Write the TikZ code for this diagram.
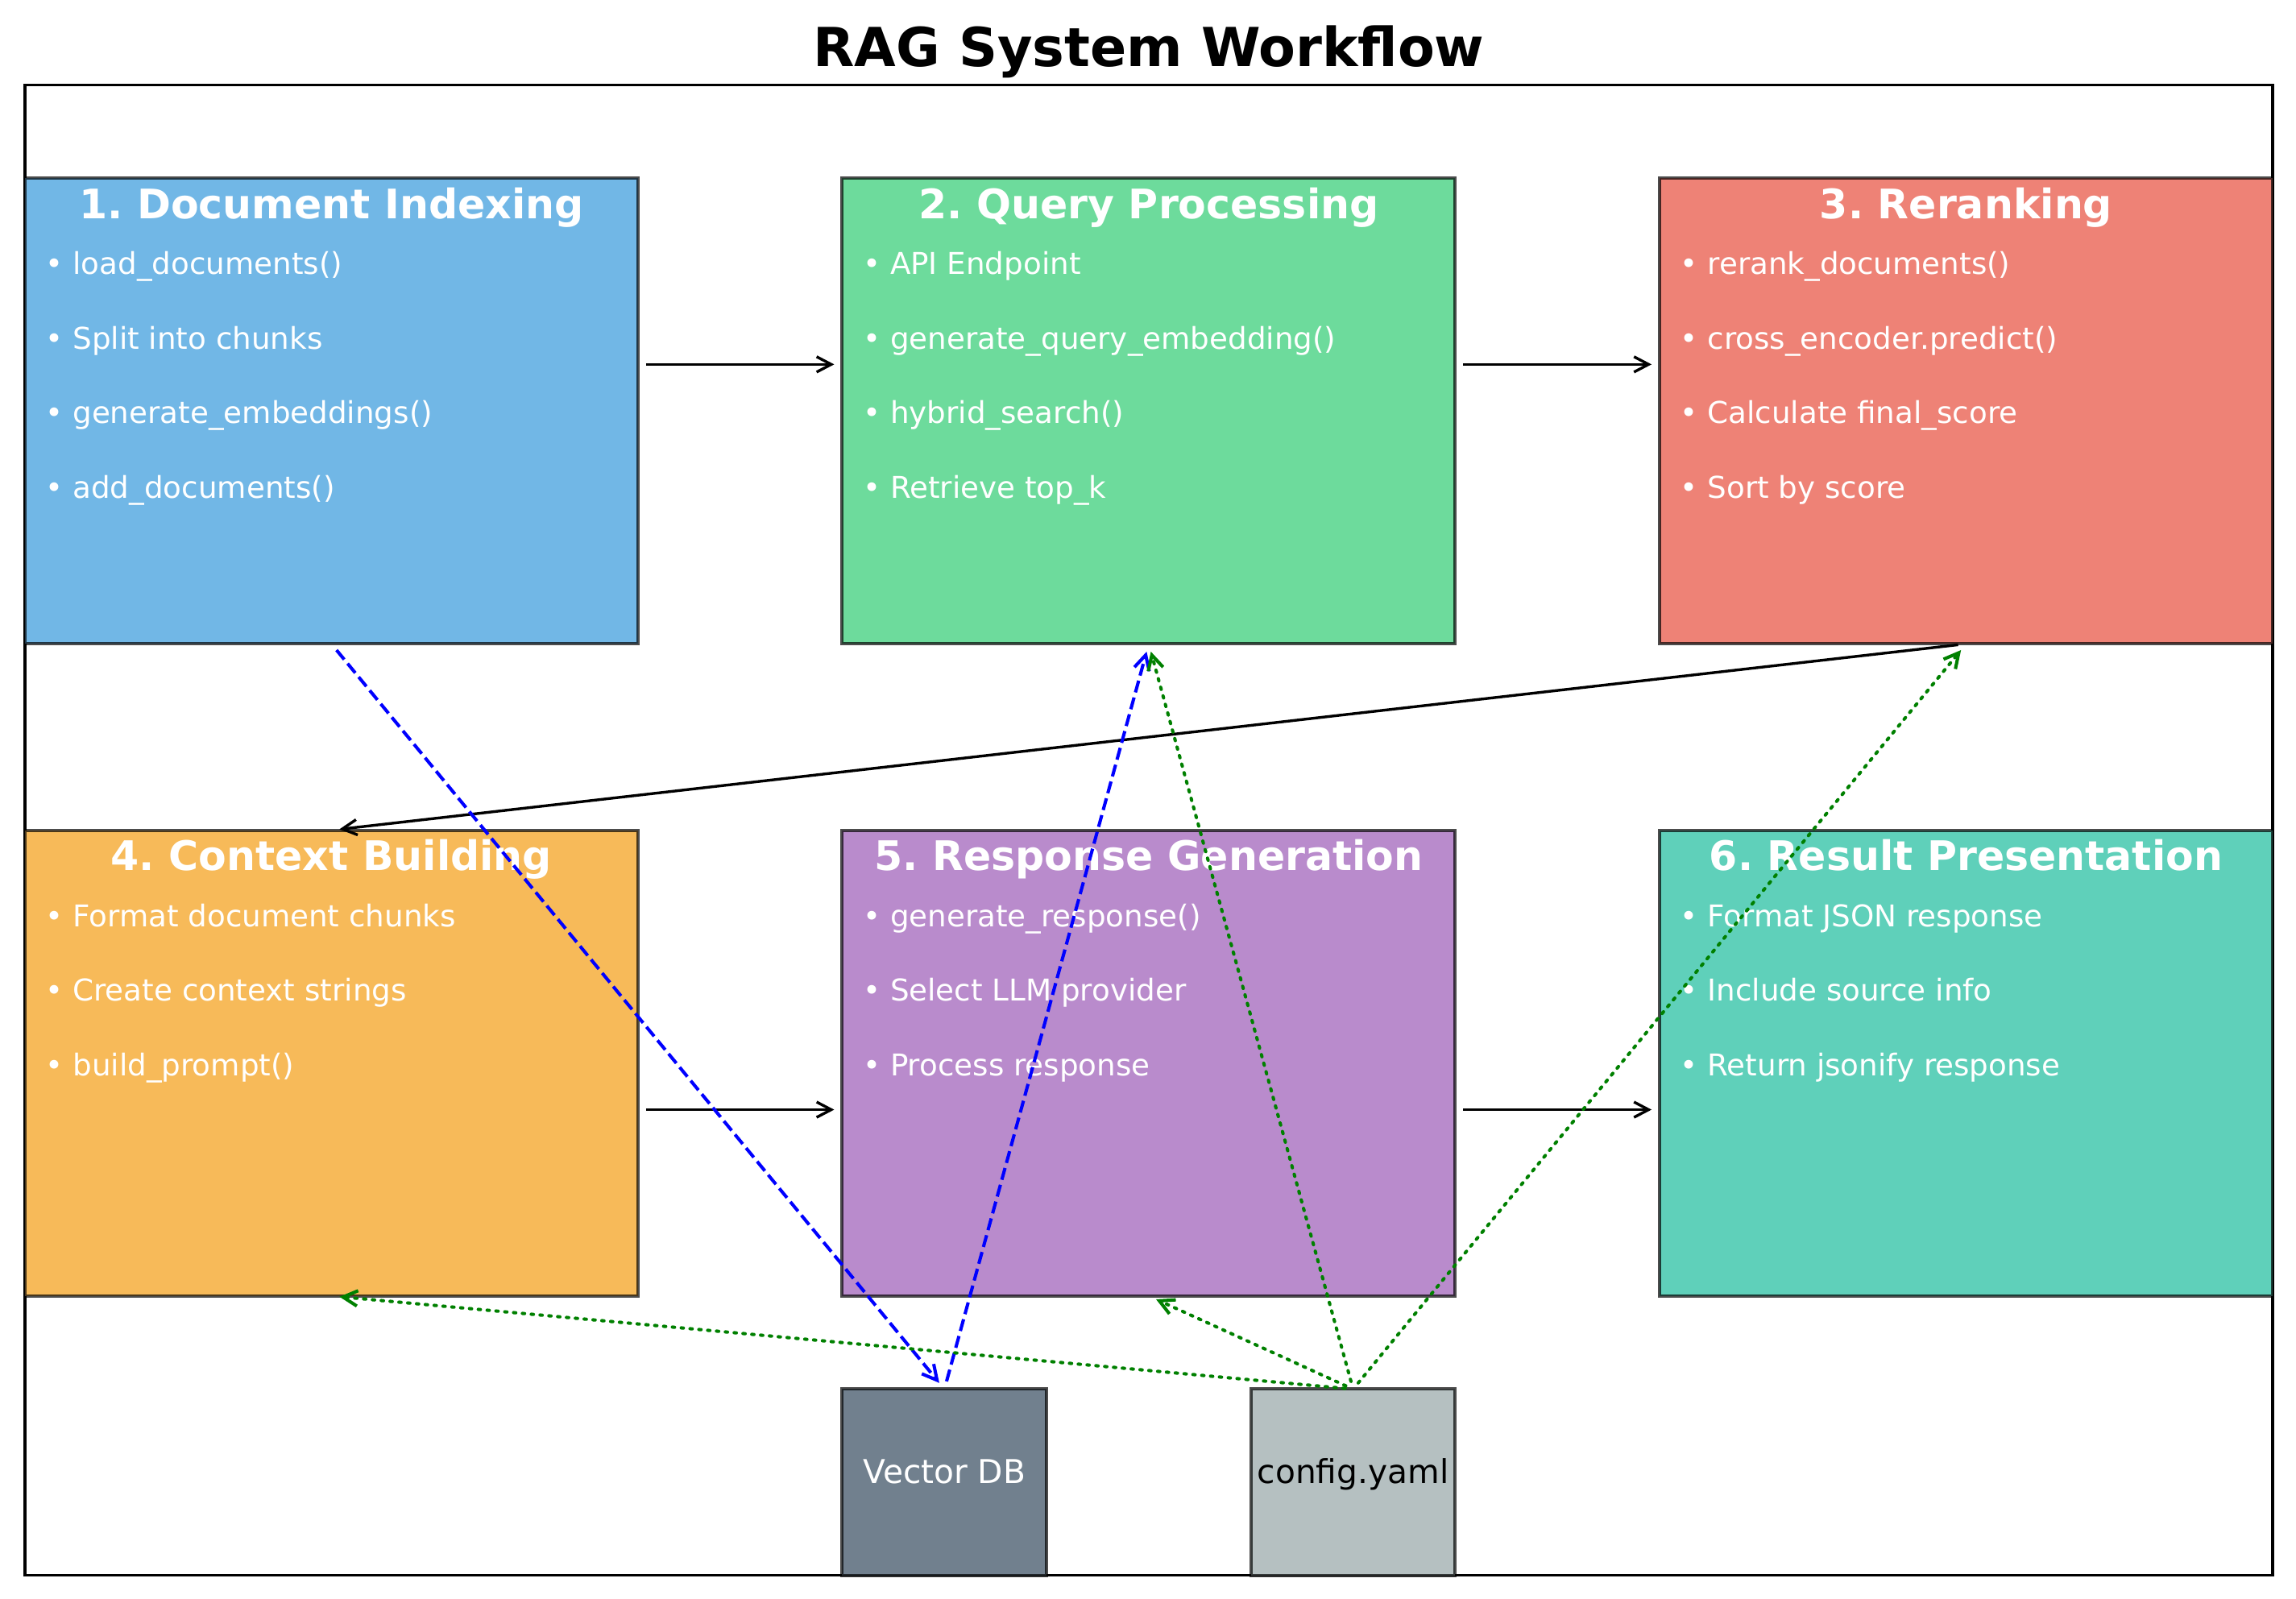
\documentclass[tikz,border=0pt]{standalone}
\usepackage{fontspec}
\setmainfont{DejaVu Sans}
\usetikzlibrary{arrows.meta,calc}
\frenchspacing
\definecolor{cA}{HTML}{71B7E6}
\definecolor{cB}{HTML}{6DDB9C}
\definecolor{cC}{HTML}{EE8276}
\definecolor{cD}{HTML}{F7BA59}
\definecolor{cE}{HTML}{B98BCC}
\definecolor{cF}{HTML}{5FD0BA}
\definecolor{cG}{HTML}{71808E}
\definecolor{cH}{HTML}{B5C0C1}
\definecolor{dblue}{HTML}{0000FF}
\definecolor{dgreen}{HTML}{008000}
\begin{document}
\begin{tikzpicture}[x=139.545pt,y=63.625pt,
  bigbox/.style={draw=black,draw opacity=0.7,line width=2.2pt,minimum width=418.635pt,minimum height=318.125pt,inner sep=0pt,outer sep=0pt},
  smallbox/.style={draw=black,draw opacity=0.7,line width=2.2pt,minimum width=139.545pt,minimum height=127.25pt,inner sep=0pt,outer sep=0pt},
  boxtitle/.style={anchor=mid,inner sep=0pt,text=white,font=\fontsize{27.8}{32}\selectfont\bfseries},
  bul/.style={anchor=mid west,inner sep=0pt,text=white,font=\fontsize{20.5}{24}\selectfont},
  smalltext/.style={anchor=mid,inner sep=0pt,font=\fontsize{22.4}{26}\selectfont},
  flow/.style={line width=1.87pt,black,-{Straight Barb[length=10pt,width=10.5pt]},shorten >=5.5pt,shorten <=5.5pt},
  dataflow/.style={line width=2.24pt,dblue,dash pattern=on 8.3pt off 3.6pt,-{Straight Barb[length=10pt,width=10.5pt]},shorten >=5.5pt,shorten <=5.5pt},
  cfgflow/.style={line width=2.24pt,dgreen,line cap=round,dash pattern=on 1.5pt off 4.55pt,-{Straight Barb[length=10pt,width=10.5pt]},shorten >=5.5pt,shorten <=5.5pt}
]
\useasboundingbox (-0.1218,-0.2444) rectangle (11.1144,16.9116);
% frame and title
\draw[line width=1.87pt] (0,0) rectangle (11,16);
\node[anchor=base,inner sep=0pt,font=\fontsize{36.7}{40}\selectfont\bfseries] (title) at (5.5,16.2) {RAG System Workflow};
% boxes
\node[bigbox,fill=cA] (b1) at (1.5,12.5) {};
\node[bigbox,fill=cB] (b2) at (5.5,12.5) {};
\node[bigbox,fill=cC] (b3) at (9.5,12.5) {};
\node[bigbox,fill=cD] (b4) at (1.5,5.5) {};
\node[bigbox,fill=cE] (b5) at (5.5,5.5) {};
\node[bigbox,fill=cF] (b6) at (9.5,5.5) {};
\node[smallbox,fill=cG] (vdb) at (4.5,1) {};
\node[smallbox,fill=cH] (cfg) at (6.5,1) {};
% texts
\node[boxtitle] (t1) at ($(b1.north)+(0,-0.39)$) {1. Document Indexing};
\node[bul] (t1a) at ($(b1.north west)+(0.1,-0.99)$) {• load\_documents()};
\node[bul] (t1b) at ($(b1.north west)+(0.1,-1.79)$) {• Split into chunks};
\node[bul] (t1c) at ($(b1.north west)+(0.1,-2.59)$) {• generate\_embeddings()};
\node[bul] (t1d) at ($(b1.north west)+(0.1,-3.39)$) {• add\_documents()};
\node[boxtitle] (t2) at ($(b2.north)+(0,-0.39)$) {2. Query Processing};
\node[bul] (t2a) at ($(b2.north west)+(0.1,-0.99)$) {• API Endpoint};
\node[bul] (t2b) at ($(b2.north west)+(0.1,-1.79)$) {• generate\_query\_embedding()};
\node[bul] (t2c) at ($(b2.north west)+(0.1,-2.59)$) {• hybrid\_search()};
\node[bul] (t2d) at ($(b2.north west)+(0.1,-3.39)$) {• Retrieve top\_k};
\node[boxtitle] (t3) at ($(b3.north)+(0,-0.39)$) {3. Reranking};
\node[bul] (t3a) at ($(b3.north west)+(0.1,-0.99)$) {• rerank\_documents()};
\node[bul] (t3b) at ($(b3.north west)+(0.1,-1.79)$) {• cross\_encoder.predict()};
\node[bul] (t3c) at ($(b3.north west)+(0.1,-2.59)$) {• Calculate final\_score};
\node[bul] (t3d) at ($(b3.north west)+(0.1,-3.39)$) {• Sort by score};
\node[boxtitle] (t4) at ($(b4.north)+(0,-0.39)$) {4. Context Building};
\node[bul] (t4a) at ($(b4.north west)+(0.1,-0.99)$) {• Format document chunks};
\node[bul] (t4b) at ($(b4.north west)+(0.1,-1.79)$) {• Create context strings};
\node[bul] (t4c) at ($(b4.north west)+(0.1,-2.59)$) {• build\_prompt()};
\node[boxtitle] (t5) at ($(b5.north)+(0,-0.39)$) {5. Response Generation};
\node[bul] (t5a) at ($(b5.north west)+(0.1,-0.99)$) {• generate\_response()};
\node[bul] (t5b) at ($(b5.north west)+(0.1,-1.79)$) {• Select LLM provider};
\node[bul] (t5c) at ($(b5.north west)+(0.1,-2.59)$) {• Process response};
\node[boxtitle] (t6) at ($(b6.north)+(0,-0.39)$) {6. Result Presentation};
\node[bul] (t6a) at ($(b6.north west)+(0.1,-0.99)$) {• Format JSON response};
\node[bul] (t6b) at ($(b6.north west)+(0.1,-1.79)$) {• Include source info};
\node[bul] (t6c) at ($(b6.north west)+(0.1,-2.59)$) {• Return jsonify response};
\node[smalltext,text=white] (vdbt) at ($(vdb.center)+(0,0.03)$) {Vector DB};
\node[smalltext,text=black] (cfgt) at ($(cfg.center)+(0,0.03)$) {config.yaml};
% main flow
\draw[flow] ($(b1.east)+(0,0.5)$) -- ($(b2.west)+(0,0.5)$);
\draw[flow] ($(b2.east)+(0,0.5)$) -- ($(b3.west)+(0,0.5)$);
\draw[flow] (b3.south) -- (b4.north);
\draw[flow] ($(b4.east)+(0,-0.5)$) -- ($(b5.west)+(0,-0.5)$);
\draw[flow] ($(b5.east)+(0,-0.5)$) -- ($(b6.west)+(0,-0.5)$);
% data flow
\draw[dataflow] (b1.south) -- (vdb.north);
\draw[dataflow] (vdb.north) -- (b2.south);
% config flow
\draw[cfgflow] (cfg.north) -- (b2.south);
\draw[cfgflow] (cfg.north) -- (b3.south);
\draw[cfgflow] (cfg.north) -- (b5.south);
\draw[cfgflow] (cfg.north) -- (b4.south);
\end{tikzpicture}
\end{document}
